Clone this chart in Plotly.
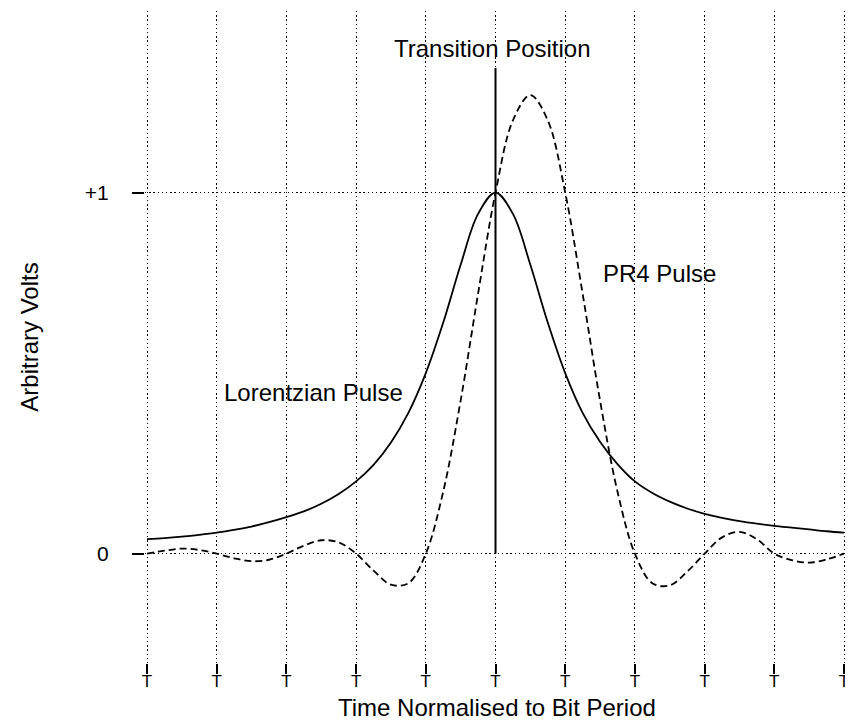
import plotly.graph_objects as go

# Time axis (normalised to bit period)
time_t = [-5, -4.75, -4.5, -4.25, -4, -3.75, -3.5, -3.25, -3, -2.75, -2.5, -2.25,
          -2, -1.75, -1.5, -1.25, -1, -0.75, -0.5, -0.25, 0, 0.25, 0.5, 0.75,
          1, 1.25, 1.5, 1.75, 2, 2.25, 2.5, 2.75, 3, 3.25, 3.5, 3.75, 4, 4.25,
          4.5, 4.75, 5]

# Lorentzian pulse (solid)
lorentzian_v = [0.040, 0.043, 0.047, 0.052, 0.058, 0.066, 0.075, 0.087, 0.101, 0.117,
                0.138, 0.165, 0.200, 0.246, 0.308, 0.390, 0.500, 0.640, 0.800, 0.941,
                1.000, 0.941, 0.800, 0.640, 0.500, 0.390, 0.310, 0.248, 0.200, 0.168,
                0.144, 0.125, 0.110, 0.099, 0.090, 0.083, 0.077, 0.072, 0.067, 0.062,
                0.058]

# PR4 pulse (dashed)
pr4_v = [0.000, 0.008, 0.014, 0.010, 0.000, -0.013, -0.021, -0.017, 0.000, 0.022,
         0.037, 0.031, 0.000, -0.047, -0.086, -0.082, 0.000, 0.172, 0.424, 0.720,
         1.000, 1.200, 1.270, 1.200, 1.000, 0.720, 0.424, 0.172, 0.000, -0.082,
         -0.088, -0.050, 0.000, 0.045, 0.060, 0.040, 0.000, -0.018, -0.025, -0.016,
         0.000]

# Transition position marker
transition_x = [0, 0]
transition_y = [0, 1.345]

# Tick definitions
bit_ticks = [-5, -4, -3, -2, -1, 0, 1, 2, 3, 4, 5]
bit_labels = ["T"] * len(bit_ticks)
volt_ticks = [0, 1]
volt_labels = ["0", "+1"]

FONT = "Liberation Sans, Arial, Helvetica, sans-serif"

fig = go.Figure()
fig.add_trace(go.Scatter(x=time_t, y=lorentzian_v, mode="lines", name="Lorentzian Pulse",
                         line=dict(color="black", width=1.8, shape="spline")))
fig.add_trace(go.Scatter(x=time_t, y=pr4_v, mode="lines", name="PR4 Pulse",
                         line=dict(color="black", width=1.8, dash="7px,4px", shape="spline")))
fig.add_trace(go.Scatter(x=transition_x, y=transition_y, mode="lines", name="Transition Position",
                         line=dict(color="black", width=2)))

fig.add_annotation(x=-0.04, y=1.40, xref="x", yref="y", text="Transition Position",
                   showarrow=False, xanchor="center", yanchor="middle",
                   font=dict(family=FONT, size=24, color="black"))
fig.add_annotation(x=-3.93, y=0.447, xref="x", yref="y", text="Lorentzian Pulse",
                   showarrow=False, xanchor="left", yanchor="middle",
                   font=dict(family=FONT, size=24, color="black"))
fig.add_annotation(x=1.52, y=0.776, xref="x", yref="y", text="PR4 Pulse",
                   showarrow=False, xanchor="left", yanchor="middle",
                   font=dict(family=FONT, size=24, color="black"))
# x-axis title
fig.add_annotation(x=0.02, y=0, xref="x", yref="paper", yshift=-29,
                   text="Time Normalised to Bit Period",
                   showarrow=False, xanchor="center", yanchor="top",
                   font=dict(family=FONT, size=24, color="black"))

# The page body adds an 8px margin, so the figure is kept inside the window.
fig.update_layout(
    width=845, height=712,
    margin=dict(l=137, r=7, t=3, b=57, autoexpand=False),
    paper_bgcolor="white", plot_bgcolor="white",
    showlegend=False,
    font=dict(family=FONT, color="black"),
    xaxis=dict(
        range=[-5.0287, 5.0287], automargin=False,
        tickmode="array", tickvals=bit_ticks, ticktext=bit_labels,
        ticks="outside", ticklen=10, tickwidth=2, tickcolor="black",
        ticklabelstandoff=-7,
        tickfont=dict(family=FONT, size=17, color="black"),
        showgrid=True, gridcolor="black", gridwidth=1.4, griddash="1.4px,2.8px",
        zeroline=False, showline=False,
    ),
    yaxis=dict(
        range=[-0.303, 1.503], automargin=False,
        tickmode="array", tickvals=volt_ticks, ticktext=volt_labels,
        ticks="outside", ticklen=12, tickwidth=2, tickcolor="black",
        ticklabelstandoff=19,
        tickfont=dict(family=FONT, size=21, color="black"),
        showgrid=True, gridcolor="black", gridwidth=1.4, griddash="1.4px,2.8px",
        zeroline=False, showline=False,
        title=dict(text="Arbitrary Volts",
                   font=dict(family=FONT, size=24, color="black"), standoff=39),
    ),
)

fig.write_html("out.html")
